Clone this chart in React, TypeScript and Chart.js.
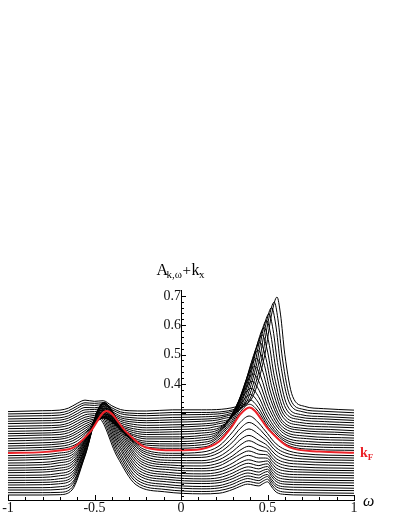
import { useEffect, useRef } from 'react';
import { Chart, registerables } from 'chart.js';

Chart.register(...registerables);

// offsets k_x of the 35 curves (bottom -> top)
const kx = [
  0.018, 0.026, 0.035, 0.043, 0.052, 0.060, 0.068, 0.077, 0.085, 0.094, 0.102, 0.110,
  0.119, 0.127, 0.136, 0.144, 0.152, 0.161, 0.169, 0.178, 0.186, 0.194, 0.203, 0.211,
  0.220, 0.228, 0.236, 0.245, 0.253, 0.262, 0.270, 0.278, 0.287, 0.295, 0.304,
];
const kFIndex = 17;

// A(k, omega): [omega, A] pairs per curve
const spectra: number[][][] = [
  /* 0 */ [[-1,.004],[-.8,.004],[-.705,.005],[-.63,.021],[-.555,.136],[-.48,.267],[-.37,.136],[-.26,.039],[-.095,.015],[.12,.008],[.22,.010],[.3,.023],[.34,.033],[.385,.041],[.45,.035],[.475,.043],[.5,.049],[.525,.031],[.55,.014],[.6,.006],[.7,.004],[1,.002]],
  /* 1 */ [[-1,.004],[-.8,.004],[-.705,.005],[-.629,.022],[-.553,.135],[-.477,.266],[-.367,.135],[-.257,.039],[-.092,.015],[.12,.008],[.22,.011],[.3,.023],[.34,.034],[.386,.042],[.45,.036],[.475,.044],[.5,.05],[.525,.031],[.55,.015],[.6,.006],[.7,.004],[1,.002]],
  /* 2 */ [[-1,.004],[-.8,.004],[-.705,.006],[-.628,.023],[-.551,.134],[-.474,.264],[-.364,.134],[-.254,.038],[-.089,.015],[.12,.008],[.22,.011],[.3,.024],[.34,.035],[.386,.043],[.45,.036],[.475,.044],[.5,.05],[.525,.031],[.55,.015],[.6,.007],[.7,.004],[1,.002]],
  /* 3 */ [[-1,.004],[-.8,.004],[-.705,.007],[-.627,.023],[-.549,.133],[-.471,.262],[-.361,.133],[-.251,.038],[-.086,.015],[.12,.008],[.22,.011],[.3,.025],[.34,.036],[.387,.044],[.45,.037],[.475,.045],[.5,.049],[.525,.031],[.55,.015],[.6,.007],[.7,.005],[1,.002]],
  /* 4 */ [[-1,.004],[-.8,.005],[-.708,.008],[-.628,.024],[-.548,.132],[-.468,.259],[-.358,.132],[-.248,.038],[-.083,.015],[.12,.009],[.22,.012],[.3,.026],[.34,.037],[.387,.045],[.45,.038],[.475,.045],[.5,.05],[.525,.032],[.55,.016],[.6,.007],[.7,.005],[1,.002]],
  /* 5 */ [[-1,.004],[-.8,.005],[-.708,.008],[-.627,.025],[-.546,.13],[-.465,.256],[-.355,.13],[-.245,.037],[-.08,.015],[.12,.009],[.22,.012],[.3,.027],[.34,.039],[.388,.047],[.45,.04],[.475,.046],[.5,.05],[.525,.032],[.55,.016],[.6,.007],[.7,.005],[1,.003]],
  /* 6 */ [[-1,.004],[-.8,.005],[-.708,.009],[-.626,.026],[-.544,.129],[-.462,.253],[-.352,.129],[-.242,.037],[-.077,.015],[.12,.009],[.22,.013],[.3,.029],[.34,.041],[.389,.05],[.45,.043],[.475,.048],[.5,.051],[.525,.033],[.55,.017],[.6,.008],[.7,.005],[1,.003]],
  /* 7 */ [[-1,.004],[-.8,.005],[-.708,.01],[-.625,.026],[-.542,.126],[-.459,.248],[-.349,.126],[-.239,.036],[-.074,.014],[.12,.009],[.22,.014],[.3,.031],[.34,.044],[.389,.053],[.45,.045],[.475,.049],[.5,.051],[.525,.033],[.55,.018],[.6,.008],[.7,.005],[1,.003]],
  /* 8 */ [[-1,.004],[-.8,.005],[-.711,.01],[-.626,.027],[-.541,.124],[-.456,.244],[-.346,.124],[-.236,.036],[-.071,.014],[.12,.009],[.22,.015],[.3,.034],[.34,.047],[.39,.057],[.45,.049],[.475,.051],[.5,.053],[.525,.035],[.55,.019],[.6,.009],[.7,.006],[1,.003]],
  /* 9 */ [[-1,.004],[-.8,.006],[-.711,.011],[-.625,.027],[-.539,.121],[-.453,.238],[-.343,.121],[-.233,.035],[-.068,.014],[.12,.01],[.22,.016],[.3,.037],[.34,.052],[.39,.063],[.45,.054],[.475,.054],[.5,.053],[.525,.036],[.55,.02],[.6,.01],[.7,.006],[1,.003]],
  /* 10 */ [[-1,.004],[-.8,.006],[-.711,.011],[-.624,.028],[-.537,.119],[-.45,.233],[-.34,.119],[-.23,.034],[-.065,.014],[.12,.01],[.22,.019],[.3,.044],[.34,.058],[.391,.07],[.45,.059],[.475,.058],[.5,.056],[.525,.038],[.55,.023],[.6,.011],[.7,.006],[1,.003]],
  /* 11 */ [[-1,.004],[-.8,.006],[-.711,.012],[-.623,.028],[-.535,.116],[-.447,.227],[-.337,.116],[-.227,.033],[-.062,.014],[.12,.011],[.22,.021],[.3,.046],[.34,.064],[.392,.078],[.45,.065],[.475,.062],[.5,.058],[.525,.04],[.55,.025],[.6,.013],[.7,.007],[1,.003]],
  /* 12 */ [[-1,.004],[-.8,.006],[-.711,.012],[-.622,.028],[-.533,.111],[-.444,.218],[-.334,.111],[-.224,.032],[-.059,.013],[.12,.012],[.22,.023],[.3,.052],[.34,.072],[.392,.088],[.45,.073],[.475,.067],[.5,.06],[.525,.042],[.55,.027],[.6,.014],[.7,.008],[1,.003]],
  /* 13 */ [[-1,.004],[-.8,.006],[-.711,.012],[-.621,.028],[-.531,.106],[-.441,.208],[-.331,.106],[-.221,.031],[-.056,.013],[.12,.012],[.22,.026],[.3,.059],[.34,.082],[.393,.098],[.45,.081],[.475,.073],[.5,.063],[.525,.046],[.55,.031],[.6,.016],[.7,.009],[1,.004]],
  /* 14 */ [[-1,.004],[-.8,.007],[-.711,.012],[-.62,.027],[-.529,.1],[-.438,.195],[-.328,.1],[-.218,.029],[-.053,.013],[.12,.014],[.22,.03],[.3,.067],[.34,.093],[.393,.111],[.45,.092],[.475,.08],[.5,.068],[.525,.05],[.55,.035],[.6,.019],[.7,.009],[1,.004]],
  /* 15 */ [[-1,.004],[-.8,.007],[-.715,.012],[-.622,.026],[-.529,.093],[-.436,.181],[-.326,.093],[-.216,.027],[-.051,.013],[.12,.014],[.22,.033],[.3,.075],[.34,.103],[.394,.125],[.45,.105],[.475,.089],[.5,.073],[.525,.055],[.55,.039],[.6,.022],[.7,.01],[1,.004]],
  /* 16 */ [[-1,.004],[-.8,.007],[-.715,.012],[-.621,.025],[-.527,.085],[-.433,.165],[-.323,.085],[-.213,.025],[-.048,.012],[.12,.016],[.22,.037],[.3,.086],[.34,.116],[.394,.139],[.45,.115],[.475,.097],[.5,.079],[.525,.06],[.55,.044],[.6,.025],[.7,.011],[1,.004]],
  /* 17 kF */ [[-1,.004],[-.8,.007],[-.715,.012],[-.62,.023],[-.525,.076],[-.43,.147],[-.317,.076],[-.204,.023],[-.035,.013],[.12,.018],[.22,.043],[.3,.099],[.34,.134],[.395,.159],[.51,.082],[.625,.024],[.8,.009],[1,.005]],
  /* 18 */ [[-1,.003],[-.8,.007],[-.7,.011],[-.65,.016],[-.6,.028],[-.555,.051],[-.5,.096],[-.45,.127],[-.4,.12],[-.35,.08],[-.3,.047],[-.2,.016],[-.05,.012],[.12,.016],[.17,.023],[.283,.082],[.345,.138],[.396,.162],[.446,.138],[.506,.082],[.616,.023],[.781,.008],[1,.005]],
  /* 19 */ [[-1,.003],[-.8,.006],[-.7,.01],[-.65,.015],[-.6,.028],[-.555,.05],[-.5,.086],[-.45,.112],[-.4,.103],[-.35,.067],[-.3,.04],[-.2,.014],[-.05,.011],[.12,.015],[.178,.024],[.288,.085],[.349,.143],[.398,.168],[.445,.143],[.503,.085],[.608,.024],[.766,.008],[1,.005]],
  /* 20 */ [[-1,.003],[-.8,.006],[-.7,.01],[-.65,.015],[-.6,.029],[-.555,.048],[-.5,.077],[-.45,.1],[-.4,.089],[-.35,.058],[-.3,.034],[-.2,.012],[-.05,.01],[.12,.015],[.187,.025],[.294,.09],[.353,.152],[.401,.178],[.446,.152],[.501,.09],[.601,.025],[.751,.009],[1,.005]],
  /* 21 */ [[-1,.003],[-.8,.006],[-.7,.009],[-.65,.015],[-.6,.029],[-.555,.047],[-.5,.071],[-.45,.09],[-.4,.078],[-.35,.05],[-.3,.029],[-.2,.011],[-.05,.01],[.12,.015],[.197,.027],[.301,.097],[.358,.163],[.405,.191],[.448,.163],[.5,.097],[.595,.027],[.738,.01],[1,.005]],
  /* 22 */ [[-1,.003],[-.8,.006],[-.7,.009],[-.65,.015],[-.6,.029],[-.555,.046],[-.5,.065],[-.45,.082],[-.4,.069],[-.35,.043],[-.3,.026],[-.2,.01],[-.05,.01],[.12,.014],[.211,.029],[.311,.104],[.366,.175],[.411,.206],[.452,.175],[.501,.104],[.591,.03],[.726,.011],[1,.005]],
  /* 23 */ [[-1,.003],[-.8,.006],[-.7,.008],[-.65,.014],[-.6,.029],[-.555,.045],[-.5,.061],[-.45,.075],[-.4,.061],[-.35,.037],[-.3,.022],[-.2,.009],[-.05,.009],[.12,.014],[.224,.031],[.321,.113],[.374,.19],[.418,.223],[.456,.19],[.503,.113],[.588,.032],[.716,.012],[1,.005]],
  /* 24 */ [[-1,.003],[-.8,.006],[-.7,.008],[-.65,.014],[-.6,.029],[-.555,.044],[-.5,.057],[-.45,.069],[-.4,.055],[-.35,.033],[-.3,.019],[-.2,.008],[-.05,.009],[.12,.013],[.238,.033],[.332,.121],[.384,.204],[.426,.24],[.462,.204],[.506,.121],[.586,.034],[.706,.013],[.906,.008],[1,.005]],
  /* 25 */ [[-1,.003],[-.8,.005],[-.7,.008],[-.65,.014],[-.6,.029],[-.555,.044],[-.5,.053],[-.45,.063],[-.4,.049],[-.35,.029],[-.3,.017],[-.2,.007],[-.05,.009],[.12,.013],[.256,.036],[.346,.131],[.396,.22],[.436,.259],[.47,.22],[.511,.131],[.586,.037],[.699,.014],[.886,.008],[1,.005]],
  /* 26 */ [[-1,.003],[-.8,.005],[-.7,.008],[-.65,.014],[-.6,.029],[-.555,.043],[-.5,.051],[-.45,.059],[-.4,.045],[-.35,.025],[-.3,.015],[-.2,.007],[-.05,.009],[.12,.012],[.185,.017],[.272,.038],[.359,.14],[.407,.237],[.446,.278],[.478,.237],[.516,.14],[.586,.039],[.691,.014],[.866,.009],[1,.005]],
  /* 27 */ [[-1,.003],[-.8,.005],[-.7,.008],[-.65,.014],[-.6,.029],[-.555,.042],[-.5,.048],[-.45,.055],[-.4,.04],[-.35,.022],[-.3,.013],[-.2,.006],[-.05,.008],[.12,.012],[.205,.018],[.289,.041],[.373,.149],[.419,.252],[.457,.296],[.487,.252],[.523,.149],[.589,.042],[.688,.015],[.853,.009],[1,.006]],
  /* 28 */ [[-1,.003],[-.8,.005],[-.7,.007],[-.65,.014],[-.6,.029],[-.555,.042],[-.5,.046],[-.45,.052],[-.4,.037],[-.35,.02],[-.3,.012],[-.2,.006],[-.05,.008],[.12,.011],[.226,.019],[.307,.043],[.388,.158],[.433,.267],[.469,.314],[.497,.267],[.531,.158],[.593,.044],[.686,.016],[.841,.01],[1,.006]],
  /* 29 */ [[-1,.003],[-.8,.005],[-.7,.007],[-.65,.014],[-.6,.029],[-.555,.042],[-.5,.044],[-.45,.049],[-.4,.034],[-.35,.017],[-.3,.01],[-.2,.006],[-.05,.008],[.12,.011],[.244,.02],[.323,.045],[.402,.166],[.445,.281],[.481,.33],[.507,.281],[.539,.166],[.597,.046],[.684,.017],[.829,.01],[1,.006]],
  /* 30 */ [[-1,.003],[-.8,.005],[-.7,.007],[-.65,.014],[-.6,.029],[-.555,.042],[-.5,.043],[-.45,.047],[-.4,.031],[-.35,.015],[-.3,.009],[-.2,.005],[-.05,.008],[.12,.01],[.264,.021],[.341,.047],[.418,.174],[.46,.294],[.495,.346],[.52,.294],[.55,.174],[.605,.048],[.688,.017],[.825,.011],[1,.006]],
  /* 31 */ [[-1,.003],[-.8,.005],[-.7,.007],[-.65,.014],[-.6,.03],[-.555,.042],[-.5,.041],[-.45,.045],[-.4,.029],[-.35,.013],[-.3,.008],[-.2,.005],[-.05,.008],[.12,.01],[.284,.021],[.359,.049],[.434,.182],[.475,.307],[.509,.361],[.532,.307],[.561,.182],[.613,.05],[.691,.018],[.821,.011],[1,.006]],
  /* 32 */ [[-1,.003],[-.8,.005],[-.7,.007],[-.65,.014],[-.6,.03],[-.555,.042],[-.5,.04],[-.45,.043],[-.4,.026],[-.35,.012],[-.3,.007],[-.2,.005],[-.05,.008],[.12,.009],[.305,.022],[.378,.051],[.451,.188],[.491,.317],[.524,.373],[.547,.317],[.574,.188],[.624,.052],[.699,.019],[.824,.011],[1,.006]],
  /* 33 */ [[-1,.003],[-.8,.005],[-.7,.007],[-.65,.014],[-.6,.03],[-.555,.041],[-.5,.039],[-.45,.041],[-.4,.024],[-.35,.01],[-.3,.006],[-.2,.004],[-.05,.008],[.12,.008],[.326,.022],[.397,.052],[.468,.193],[.507,.327],[.539,.384],[.56,.327],[.586,.193],[.633,.053],[.704,.019],[.821,.012],[1,.007]],
  /* 34 */ [[-1,.002],[-.8,.005],[-.7,.007],[-.65,.014],[-.6,.03],[-.555,.041],[-.5,.037],[-.45,.039],[-.4,.022],[-.35,.009],[-.3,.005],[-.2,.004],[-.05,.008],[.12,.008],[.345,.023],[.415,.053],[.485,.197],[.524,.334],[.555,.392],[.575,.334],[.6,.197],[.645,.054],[.713,.02],[.825,.012],[1,.007]],
];

const xTickValues = [-1, -0.9, -0.8, -0.7, -0.6, -0.5, -0.4, -0.3, -0.2, -0.1, 0, 0.1, 0.2, 0.3, 0.4, 0.5, 0.6, 0.7, 0.8, 0.9, 1];
const xLabelValues = [-1, -0.5, 0, 0.5, 1];
const xLabelTexts = ['-1', '-0.5', '0', '0.5', '1'];
const yTickValues = [
  0.02, 0.04, 0.06, 0.08, 0.1, 0.12, 0.14, 0.16, 0.18, 0.2, 0.22, 0.24, 0.26, 0.28, 0.3,
  0.32, 0.34, 0.36, 0.38, 0.4, 0.42, 0.44, 0.46, 0.48, 0.5, 0.52, 0.54, 0.56, 0.58, 0.6,
  0.62, 0.64, 0.66, 0.68, 0.7,
];
const yMajorValues = [0.1, 0.2, 0.3, 0.4, 0.5, 0.6, 0.7];
const yLabelValues = [0.4, 0.5, 0.6, 0.7];
const yLabelTexts = ['0.4', '0.5', '0.6', '0.7'];

const FONT = "'Liberation Serif', 'DejaVu Serif', serif";
const RED = '#ec2229';

const near = (list: number[], v: number) => list.findIndex((t) => Math.abs(t - v) < 1e-6);

const decorPlugin = {
  id: 'decor',
  afterDraw(chart: any) {
    const { ctx, chartArea } = chart;
    const xs = chart.scales.x;
    const ys = chart.scales.y;
    const x0 = Math.round(xs.getPixelForValue(0)) + 0.5;
    ctx.save();
    ctx.strokeStyle = '#000';
    ctx.lineWidth = 1;
    // inward tick marks on the x axis
    for (const v of xTickValues) {
      const px = Math.round(xs.getPixelForValue(v)) + 0.5;
      const len = near(xLabelValues, v) >= 0 ? 5 : 3;
      ctx.beginPath();
      ctx.moveTo(px, chartArea.bottom);
      ctx.lineTo(px, chartArea.bottom - len);
      ctx.stroke();
    }
    // tick marks on the y axis (right side)
    for (const v of yTickValues) {
      const py = Math.round(ys.getPixelForValue(v)) + 0.5;
      const len = near(yMajorValues, v) >= 0 ? 4.5 : 2.5;
      ctx.beginPath();
      ctx.moveTo(x0, py);
      ctx.lineTo(x0 + len, py);
      ctx.stroke();
    }
    // y axis title A_{k,ω} + k_x
    ctx.fillStyle = '#000';
    ctx.textAlign = 'left';
    ctx.textBaseline = 'alphabetic';
    let tx = x0 - 25;
    const by = chartArea.top - 15;
    ctx.font = `16px ${FONT}`;
    ctx.fillText('A', tx, by);
    tx += ctx.measureText('A').width - 1.5;
    ctx.font = `11px ${FONT}`;
    ctx.fillText('k,ω', tx, by + 2.5);
    tx += ctx.measureText('k,ω').width + 0.5;
    ctx.font = `15px ${FONT}`;
    ctx.fillText('+', tx, by - 0.5);
    tx += ctx.measureText('+').width + 0.5;
    ctx.font = `16px ${FONT}`;
    ctx.fillText('k', tx, by);
    tx += ctx.measureText('k').width - 0.5;
    ctx.font = `11px ${FONT}`;
    ctx.fillText('x', tx, by + 2.5);
    // omega label
    ctx.font = `italic 16px ${FONT}`;
    ctx.fillText('ω', chartArea.right + 9, chartArea.bottom + 6);
    // k_F label
    const red = spectra[kFIndex];
    const yRed = ys.getPixelForValue(red[red.length - 1][1] + kx[kFIndex]);
    ctx.fillStyle = RED;
    let kxp = chartArea.right + 6;
    ctx.font = `bold 14px ${FONT}`;
    ctx.fillText('k', kxp, yRed + 4.5);
    kxp += ctx.measureText('k').width;
    ctx.font = `bold 9px ${FONT}`;
    ctx.fillText('F', kxp, yRed + 7);
    ctx.restore();
  },
};

export default function App() {
  const ref = useRef<HTMLCanvasElement | null>(null);
  useEffect(() => {
    if (!ref.current) return;
    const datasets = spectra.map((pts, i) => ({
      data: pts.map(([w, a]) => ({ x: w, y: a + kx[i] })),
      borderColor: i === kFIndex ? RED : '#000',
      borderWidth: i === kFIndex ? 2 : 1,
      pointRadius: 0,
      fill: false,
      cubicInterpolationMode: 'monotone' as const,
      order: i === kFIndex ? -1 : 0,
    }));
    const chart = new Chart(ref.current, {
      type: 'line',
      data: { datasets },
      options: {
        animation: false,
        responsive: false,
        events: [],
        layout: { padding: { top: 290, left: 8, right: 45, bottom: 0 } },
        plugins: { legend: { display: false }, tooltip: { enabled: false } },
        scales: {
          x: {
            type: 'linear',
            min: -1,
            max: 1,
            position: 'bottom',
            afterBuildTicks: (s: any) => {
              s.ticks = xTickValues.map((v) => ({ value: v }));
            },
            ticks: {
              autoSkip: false,
              maxRotation: 0,
              padding: 1,
              color: '#111',
              font: { family: FONT, size: 14, lineHeight: 1 },
              callback: (v: any) => {
                const k = near(xLabelValues, Number(v));
                return k >= 0 ? xLabelTexts[k] : '';
              },
            },
            grid: { display: true, drawOnChartArea: false, drawTicks: false },
            border: { display: true, color: '#000', width: 1 },
          },
          y: {
            type: 'linear',
            min: 0.005,
            max: 0.72,
            position: { x: 0 } as any,
            afterBuildTicks: (s: any) => {
              s.ticks = yTickValues.map((v) => ({ value: v }));
            },
            ticks: {
              autoSkip: false,
              padding: 3,
              color: '#111',
              font: { family: FONT, size: 14, lineHeight: 1 },
              callback: (v: any) => {
                const k = near(yLabelValues, Number(v));
                return k >= 0 ? yLabelTexts[k] : '';
              },
            },
            grid: { display: true, drawOnChartArea: false, drawTicks: false },
            border: { display: true, color: '#000', width: 1 },
          },
        },
      },
      plugins: [decorPlugin],
    });
    return () => chart.destroy();
  }, []);
  return (
    <div style={{ position: 'fixed', left: 0, top: 0, width: 399, height: 516, background: '#fff' }}>
      <canvas ref={ref} width={399} height={516} style={{ display: 'block' }} />
    </div>
  );
}
